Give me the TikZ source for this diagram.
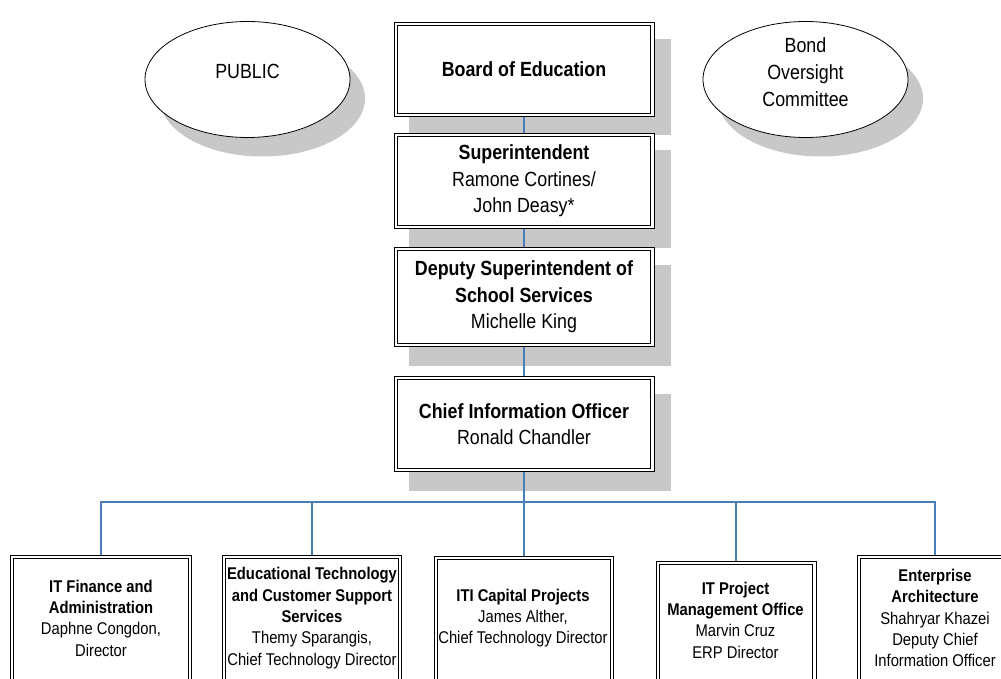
\documentclass[tikz,border=0pt]{standalone}
\usepackage{fontspec}
\setmainfont{Liberation Sans}[FakeStretch=0.87]
\definecolor{shadowgray}{RGB}{200,200,200}
\definecolor{linkblue}{RGB}{74,126,187}
\pgfdeclarelayer{bg}
\pgfdeclarelayer{lines}
\pgfsetlayers{bg,lines,main}
\tikzset{
  dbox/.style={draw, line width=0.9pt, fill=white, inner sep=0pt, align=center},
  innerline/.style={draw, line width=0.9pt},
  topbox/.style={dbox, minimum width=260.1pt, font=\fontsize{20.5}{26.5}\selectfont},
  botbox/.style={dbox, minimum height=144pt},
  bottext/.style={align=center, inner sep=0pt, font=\fontsize{17}{21.3}\selectfont},
  oval/.style={draw, ellipse, line width=0.8pt, fill=white, minimum width=205pt, minimum height=116pt, inner sep=0pt},
  ovaltext/.style={align=center, inner sep=0pt, font=\fontsize{20.5}{26.8}\selectfont},
  link/.style={draw=linkblue, line width=1.3pt},
  boxshadow/.style={fill=shadowgray}
}
\usetikzlibrary{shapes.geometric}
\begin{document}
\begin{tikzpicture}[x=1pt,y=-1pt]
\useasboundingbox (0,0) rectangle (1001,679);
\clip (0,0) rectangle (1001,679);

% ellipses
\node[oval] (pub) at (247.5,79.5) {};
\node[ovaltext] (pubt) at (247.5,71) {PUBLIC};
\node[oval] (bond) at (805.5,79.5) {};
\node[ovaltext] (bondt) at (805.5,72) {Bond\\Oversight\\Committee};

% top chain
\node[topbox, minimum height=94.1pt] (board) at (524,69.5) {\textbf{Board of Education}};
\node[topbox, minimum height=95.1pt] (supt) at (524,181) {\textbf{Superintendent}\\Ramone Cortines/\\John Deasy*};
\node[topbox, minimum height=99.1pt] (deputy) at (524,297) {\textbf{Deputy Superintendent of}\\\textbf{School Services}\\Michelle King};
\node[topbox, minimum height=95.1pt] (cio) at (524,424) {\textbf{Chief Information Officer}\\Ronald Chandler};

% bottom boxes
\node[botbox, minimum width=181.1pt] (b1) at (101,627.45) {};
\node[botbox, minimum width=179.1pt] (b2) at (312,627.45) {};
\node[botbox, minimum width=179.1pt] (b3) at (524,628.45) {};
\node[botbox, minimum width=160.1pt] (b4) at (736,633.45) {};
\node[botbox, minimum width=155.1pt] (b5) at (935,627.45) {};

\foreach \n in {board,supt,deputy,cio,b1,b2,b3,b4,b5}{
  \draw[innerline] ([shift={(3.6,3.6)}]\n.north west) rectangle ([shift={(-3.6,-3.6)}]\n.south east);
}

\node[bottext] (t1) at (101,618) {\textbf{IT Finance and}\\\textbf{Administration}\\Daphne Congdon,\\Director};
\node[bottext] (t2) at (312,618) {\textbf{Educational Technology}\\\textbf{and Customer Support}\\\textbf{Services}\\Themy Sparangis,\\Chief Technology Director};
\node[bottext] (t3) at (523,618) {\textbf{ITI Capital Projects}\\James Alther,\\Chief Technology Director};
\node[bottext] (t4) at (735.5,620) {\textbf{IT Project}\\\textbf{Management Office}\\Marvin Cruz\\ERP Director};
\node[bottext] (t5) at (935,618) {\textbf{Enterprise}\\\textbf{Architecture}\\Shahryar Khazei\\Deputy Chief\\Information Officer};

% shadows
\begin{pgfonlayer}{bg}
  \foreach \n in {board,supt,deputy,cio}{
    \fill[boxshadow] ([shift={(15.5,17.5)}]\n.north west) rectangle ([shift={(16.5,18.5)}]\n.south east);
  }
  \fill[boxshadow] ([shift={(15,19)}]pub.center) ellipse [x radius=102.5, y radius=58];
  \fill[boxshadow] ([shift={(15,19)}]bond.center) ellipse [x radius=102.5, y radius=58];
\end{pgfonlayer}

% connectors
\begin{pgfonlayer}{lines}
  \coordinate (bus) at (524,502);
  \draw[link] (board.south) -- (supt.north);
  \draw[link] (supt.south) -- (deputy.north);
  \draw[link] (deputy.south) -- (cio.north);
  \draw[link] (cio.south) -- (bus);
  \draw[link] (b1.north) |- (bus) -| (b5.north);
  \draw[link] (b2.north) -- (b2.north |- bus);
  \draw[link] (b3.north) -- (b3.north |- bus);
  \draw[link] (b4.north) -- (b4.north |- bus);
\end{pgfonlayer}
\end{tikzpicture}
\end{document}
